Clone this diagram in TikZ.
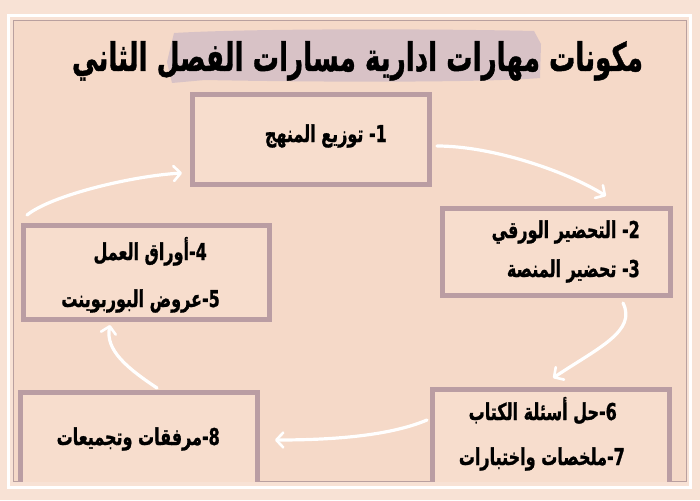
\documentclass[tikz,border=0pt]{standalone}
\usepackage{fontspec}
\TeXXeTstate=1
\newfontfamily\arabicfont[Script=Arabic, BoldFeatures={FakeBold=1.2}]{DejaVu Sans}
\usetikzlibrary{arrows.meta,calc}
\definecolor{outerbg}{HTML}{F8E2D5}
\definecolor{innerbg}{HTML}{F5D9C8}
\definecolor{boxfill}{HTML}{F7DDCD}
\definecolor{framec}{HTML}{B9A09F}
\definecolor{boxc}{HTML}{BA9DA3}
\definecolor{hlc}{HTML}{D8C2C6}
\newcommand{\tallR}[1]{\scalebox{1}[1.45]{\beginR #1\endR}}
\tikzset{
  stepbox/.style={draw=boxc, line width=5pt, fill=boxfill, inner sep=0pt},
  lbl/.style={inner sep=0pt, font=\arabicfont\bfseries\fontsize{16}{20}\selectfont, text=black},
  flow/.style={draw=white, line width=3.2pt, line cap=round,
    -{Straight Barb[length=7pt,width=15pt,line width=2.6pt,round]}},
}
\begin{document}
\begin{tikzpicture}[x=1pt,y=-1pt]
\useasboundingbox (0,0) rectangle (700,500);
\fill[outerbg] (0,0) rectangle (700,500);
\draw[white, line width=3pt] (8.5,16) rectangle (690.5,487);
\draw[framec, fill=innerbg, line width=1pt] (13.5,20.5) rectangle (686.5,481.5);
% title highlight
\fill[hlc] (174,33) .. controls (260,28) and (450,29) .. (534,31)
  -- (541,44) -- (540,78) .. controls (480,83) and (300,82) .. (205,80)
  -- (172,83) -- (167,62) -- (171,45) -- cycle;
\node[inner sep=0pt, anchor=base, font=\arabicfont\bfseries\fontsize{30}{36}\selectfont] (title) at (357.5,71)
  {\scalebox{1}[1.5]{\resizebox{571pt}{!}{\beginR مكونات مهارات ادارية مسارات الفصل الثاني\endR}}};
\begin{scope}
\clip (14,21) rectangle (686,481);
\node[stepbox, minimum width=237pt, minimum height=90pt] (n1) at (311,139.5) {};
\node[stepbox, minimum width=228pt, minimum height=87pt] (n23) at (556.5,252) {};
\node[stepbox, minimum width=246pt, minimum height=94pt] (n45) at (146.5,272.5) {};
\node[stepbox, minimum width=237pt, minimum height=96pt] (n67) at (551,437.5) {};
\node[stepbox, minimum width=237pt, minimum height=93pt] (n8) at (139,439) {};
\end{scope}
\node[lbl, anchor=base east] (t1) at ($(n1.center)+(76,2.5)$) {\tallR{1\kern0pt-\kern0pt{} توزيع المنهج}};
\node[lbl, anchor=base east] (t2) at ($(n23.center)+(83.5,-14)$) {\tallR{2\kern0pt-\kern0pt{} التحضير الورقي}};
\node[lbl, anchor=base east] (t3) at ($(n23.center)+(83.5,25)$) {\tallR{3\kern0pt-\kern0pt{} تحضير المنصة}};
\node[lbl, anchor=base east] (t4) at ($(n45.center)+(60.5,-12.5)$) {\tallR{4\kern0pt-\kern0pt أوراق العمل}};
\node[lbl, anchor=base east] (t5) at ($(n45.center)+(73.5,34.5)$) {\tallR{5\kern0pt-\kern0pt عروض البوربوينت}};
\node[lbl, anchor=base east] (t6) at ($(n67.center)+(66,-17.5)$) {\tallR{6\kern0pt-\kern0pt حل أسئلة الكتاب}};
\node[lbl, anchor=base east] (t7) at ($(n67.center)+(74,27.5)$) {\tallR{7\kern0pt-\kern0pt ملخصات واختبارات}};
\node[lbl, anchor=base east] (t8) at ($(n8.center)+(81,6)$) {\tallR{8\kern0pt-\kern0pt مرفقات وتجميعات}};
% connectors
\draw[flow] ($(n1.east)+(5,6.5)$) .. controls +(55,0) and +(-40,-25) .. ($(n23.north)+(49.5,-10)$);
\draw[flow] ($(n23.south)+(66.5,5)$) .. controls +(14,28) and +(45,-30) .. ($(n67.north)+(2,-9)$);
\draw[flow] ($(n67.west)+(-3,-17.5)$) .. controls +(-40,17) and +(50,0) .. ($(n8.east)+(15,1)$);
\draw[flow] ($(n8.north)+(18,-2)$) .. controls +(-30,-20) and +(-5,25) .. ($(n45.south)+(-36.5,3)$);
\draw[flow] ($(n45.north west)+(6,-8)$) .. controls +(25,-20) and +(-50,3) .. ($(n1.south west)+(-8,-14)$);
\end{tikzpicture}
\end{document}
